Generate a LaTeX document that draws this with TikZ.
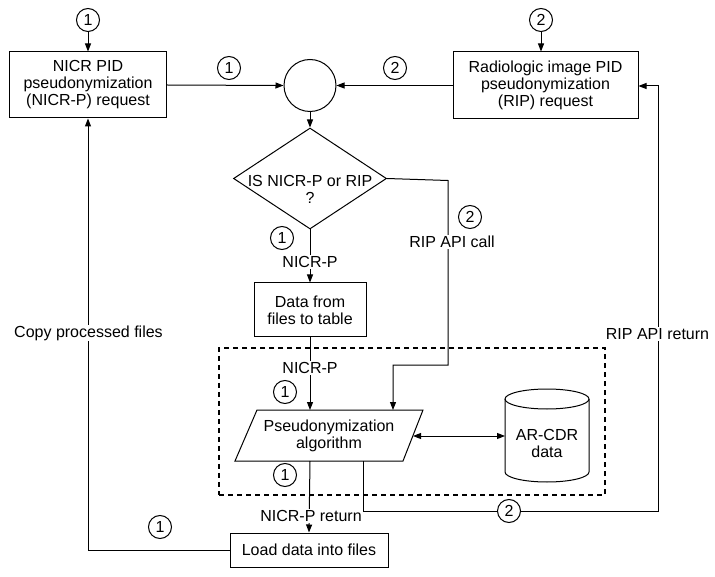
\documentclass[tikz,border=0pt]{standalone}
\usepackage{fontspec}
\setmainfont{Liberation Sans}
\usetikzlibrary{arrows.meta,shapes.geometric}
\begin{document}
\begin{tikzpicture}[x=1pt,y=-1pt,
  every node/.style={font=\fontsize{16}{17}\selectfont},
  line/.style={line width=1pt},
  arr/.style={line width=1pt,-{Triangle[length=8pt,width=6pt]}},
  dblarr/.style={line width=1pt,{Triangle[length=8pt,width=6pt]}-{Triangle[length=8pt,width=6pt]}},
  box/.style={draw,line width=1pt,rectangle,align=center,inner sep=0pt},
  num/.style={draw,circle,line width=1pt,fill=white,minimum size=23pt,inner sep=0pt,font=\fontsize{16}{16}\selectfont},
  lbl/.style={fill=white,inner sep=1pt,align=center},
  dashbox/.style={draw,line width=1.6pt,dash pattern=on 5pt off 4pt,rectangle,inner sep=0pt}
]
\useasboundingbox (0,0) rectangle (715,577);

% boxes
\node[box,minimum width=157pt,minimum height=66pt] (nicr) at (88,85) {NICR PID\\pseudonymization\\(NICR-P) request};
\node[box,minimum width=185pt,minimum height=67pt] (rip) at (545.5,85.5) {Radiologic image PID\\pseudonymization\\(RIP) request};
\node[draw,circle,line width=1pt,minimum size=52pt,inner sep=0pt] (merge) at (310,85.5) {};
\node[draw,diamond,line width=1pt,minimum width=153pt,minimum height=101pt,inner sep=0pt] (dec) at (310,178.5) {};
\node[align=center,inner sep=0pt] (dect) at (310,189) {IS NICR-P or RIP\\?};
\node[box,minimum width=112pt,minimum height=54pt] (data) at (310,310) {Data from\\files to table};
\node[dashbox,minimum width=386pt,minimum height=147pt] (grp) at (412,421.5) {};
\node[box,minimum width=158pt,minimum height=34pt] (load) at (309,550) {Load data into files};

% parallelogram
\draw[line] (257,410) -- (423,410) -- (403,461) -- (235,461) -- cycle;
\node[align=center,inner sep=0pt] (alg) at (329,435.5) {Pseudonymization\\algorithm};
\coordinate (algT) at (310,410);
\coordinate (algTR) at (393,410);
\coordinate (algB) at (310,461);
\coordinate (algBR) at (363,461);
\coordinate (algR) at (413,436);

% cylinder
\draw[line] (505,399) -- (505,472) arc (180:360:42pt and 10pt) -- (589,399);
\draw[line] (547,399) ellipse (42pt and 10pt);
\node[align=center,inner sep=0pt] (cyl) at (547,443.5) {AR-CDR\\data};
\coordinate (cylL) at (505,436);

% top numbers
\node[num] (c1top) at (88,20) {1};
\node[num] (c2top) at (541,20) {2};
\draw[arr] (c1top) -- (c1top |- nicr.north);
\draw[arr] (c2top) -- (c2top |- rip.north);

% into merge
\draw[arr] (nicr.east) -- (merge.west);
\node[num] (n1a) at (229,68) {1};
\draw[arr] (rip.west) -- (merge.east);
\node[num] (n2a) at (395,68) {2};
\draw[arr] (merge.south) -- (dec.north);

% NICR-P branch
\draw[arr] (dec.south) -- (data.north);
\node[lbl] (lnp1) at (310,262) {NICR-P};
\node[num] (n1b) at (282,238) {1};
\draw[arr] (data.south) -- (algT);
\node[lbl] (lnp2) at (310,368) {NICR-P};
\node[num] (n1c) at (285,392) {1};

% RIP branch
\coordinate (r1) at (448,180.5);
\coordinate (r2) at (448,365);
\coordinate (r3) at (393,365);
\draw[arr] (dec.east) -- (r1) -- (r2) -- (r3) -- (algTR);
\node[num] (n2b) at (470,217) {2};
\node[lbl] (lripc) at (452,242) {RIP API call};

% algorithm <-> data
\draw[dblarr] (algR) -- (cylL);

% return
\draw[arr] (algB) -- (load.north);
\node[lbl] (lnpr) at (311,516) {NICR-P return};
\node[num] (n1d) at (285,475) {1};

\coordinate (q1) at (363,511);
\coordinate (q2) at (658,511);
\coordinate (q3) at (658,86);
\draw[arr] (algBR) -- (q1) -- (q2) -- (q3) -- (rip.east |- q3);
\node[num] (n2c) at (509,511) {2};
\node[lbl] (lripr) at (657.5,334) {RIP API return};

\coordinate (p1) at (88,550);
\draw[arr] (load.west) -- (p1) -- (nicr.south);
\node[num] (n1e) at (160,527) {1};
\node[lbl] (lcopy) at (88.5,333) {Copy processed files};
\end{tikzpicture}
\end{document}
